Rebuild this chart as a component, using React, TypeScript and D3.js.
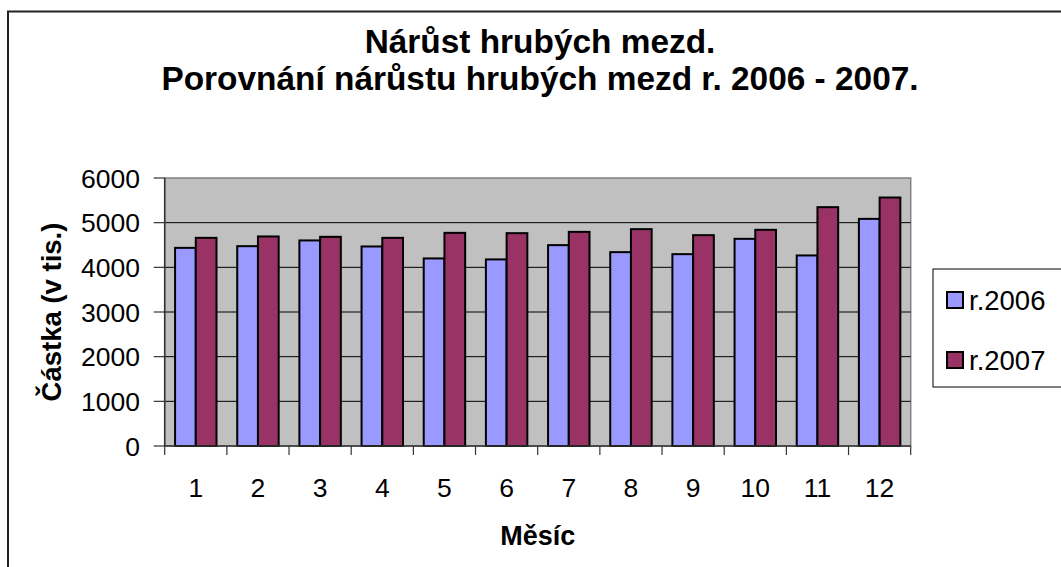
import React from "react";
import * as d3 from "d3";

const months = ["1", "2", "3", "4", "5", "6", "7", "8", "9", "10", "11", "12"];
const series2006 = [4436, 4474, 4602, 4467, 4199, 4177, 4497, 4340, 4295, 4638, 4266, 5085];
const series2007 = [4660, 4691, 4683, 4660, 4772, 4765, 4794, 4855, 4720, 4840, 5347, 5563];
const seriesNames = ["r.2006", "r.2007"];
const seriesColors = ["#9999FF", "#993366"];
const yTicks = [0, 1000, 2000, 3000, 4000, 5000, 6000];
const titleLines = ["Nárůst hrubých mezd.", "Porovnání nárůstu hrubých mezd r. 2006 - 2007."];
const xTitle = "Měsíc";
const yTitle = "Částka (v tis.)";

export default function App() {
  const W = 1061;
  const H = 567;
  const left = 164.7;
  const right = 910.7;
  const top = 178;
  const bottom = 446;
  const font = "Arial, 'Liberation Sans', Helvetica, sans-serif";

  const x = d3.scaleBand<string>().domain(months).range([left, right]).paddingInner(0).paddingOuter(0);
  const cw = x.bandwidth();
  const xs = d3.scaleBand<string>().domain(seriesNames).range([cw / 6, (cw * 5) / 6]).padding(0);
  const y = d3.scaleLinear().domain([0, 6000]).range([bottom, top]);

  const data = [series2006, series2007];

  return (
    <svg width={W} height={H} style={{ position: "absolute", left: 0, top: 0, background: "#fff" }}>
      <rect x={8} y={11.5} width={1200} height={700} fill="#fff" stroke="#222" strokeWidth={2} />
      {titleLines.map((t, i) => (
        <text key={i} x={540} y={53 + i * 37} textAnchor="middle" fontFamily={font} fontWeight="bold" fontSize={33.4} fill="#000">
          {t}
        </text>
      ))}
      <rect x={left} y={top} width={right - left} height={bottom - top} fill="#C0C0C0" stroke="#808080" strokeWidth={1.5} />
      {yTicks.filter((v) => v > 0 && v < 6000).map((v) => (
        <line key={v} x1={left} x2={right} y1={y(v)} y2={y(v)} stroke="#000" strokeWidth={1} />
      ))}
      {data.map((vals, si) =>
        vals.map((v, i) => (
          <rect
            key={`${si}-${i}`}
            x={(x(months[i]) as number) + (xs(seriesNames[si]) as number)}
            y={y(v)}
            width={xs.bandwidth()}
            height={y(0) - y(v)}
            fill={seriesColors[si]}
            stroke="#000"
            strokeWidth={2}
          />
        ))
      )}
      <line x1={left} x2={left} y1={top} y2={bottom} stroke="#333" strokeWidth={1.5} />
      <line x1={left} x2={right} y1={bottom} y2={bottom} stroke="#333" strokeWidth={1.5} />
      {yTicks.map((v) => (
        <g key={v}>
          <line x1={left - 11} x2={left} y1={y(v)} y2={y(v)} stroke="#333" strokeWidth={1.2} />
          <text x={140} y={y(v)} dy="0.36em" textAnchor="end" fontFamily={font} fontSize={26.5} fill="#000">
            {v}
          </text>
        </g>
      ))}
      {months.map((m, i) => (
        <line key={"t" + i} x1={x(m) as number} x2={x(m) as number} y1={bottom} y2={bottom + 9} stroke="#333" strokeWidth={1.2} />
      ))}
      <line x1={right} x2={right} y1={bottom} y2={bottom + 9} stroke="#333" strokeWidth={1.2} />
      {months.map((m) => (
        <text key={"l" + m} x={(x(m) as number) + cw / 2} y={497} textAnchor="middle" fontFamily={font} fontSize={26.5} fill="#000">
          {m}
        </text>
      ))}
      <text x={(left + right) / 2} y={545} textAnchor="middle" fontFamily={font} fontWeight="bold" fontSize={27} fill="#000">
        {xTitle}
      </text>
      <text
        transform={`translate(61, ${(top + bottom) / 2}) rotate(-90)`}
        textAnchor="middle"
        fontFamily={font}
        fontWeight="bold"
        fontSize={27.5}
        fill="#000"
      >
        {yTitle}
      </text>
      <rect x={933} y={269} width={200} height={118} fill="#fff" stroke="#000" strokeWidth={1} />
      {seriesNames.map((s, i) => (
        <g key={s}>
          <rect x={947} y={292 + i * 60} width={16} height={16} fill={seriesColors[i]} stroke="#000" strokeWidth={2} />
          <text x={969} y={300 + i * 60} dy="0.36em" fontFamily={font} fontSize={27.5} fill="#000">
            {s}
          </text>
        </g>
      ))}
    </svg>
  );
}
